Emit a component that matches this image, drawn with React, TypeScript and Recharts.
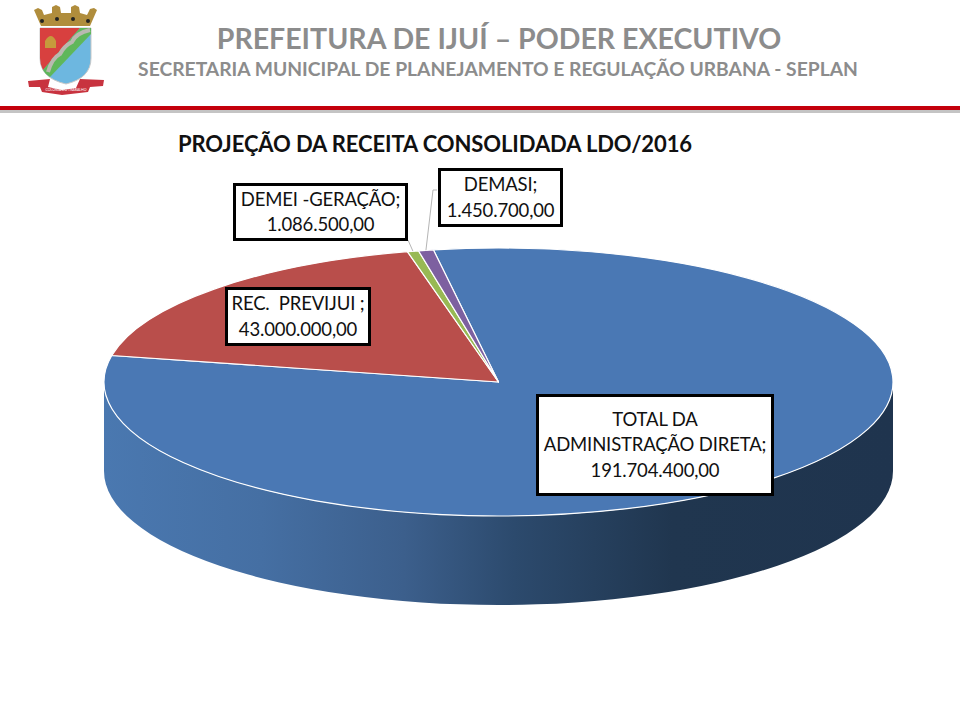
import React from 'react';
import { PieChart, Pie, Cell } from 'recharts';

const categories = ['TOTAL DA\nADMINISTRAÇÃO DIRETA', 'REC.  PREVIJUI ', 'DEMEI -GERAÇÃO', 'DEMASI'];
const values = [191704400, 43000000, 1086500, 1450700];
const colors = ['#4a78b4', '#b94e4b', '#98b954', '#7d60a0'];

const rows = categories.map((name, i) => ({ name, value: values[i] }));

const FONT = 'Lato, "Open Sans", sans-serif';
const CX = 498.5;
const CY = 382;
const RX = 394.5;
const RY = 134;
const DEPTH = 89;

const labelBoxes = [
  { left: 536, top: 394, width: 238, height: 102 },
  { left: 225, top: 287, width: 146, height: 59 },
  { left: 233, top: 183, width: 175, height: 58 },
  { left: 438, top: 168, width: 125, height: 59 },
];

const leaderStarts = [null, null, [[408, 240]], [[437, 190], [433, 190]]];

const pt = (deg: number, dy = 0): [number, number] => {
  const a = (deg * Math.PI) / 180;
  return [CX + RX * Math.cos(a), CY - RY * Math.sin(a) + dy];
};

const money = (v: number) =>
  v.toLocaleString('pt-BR', { minimumFractionDigits: 2, maximumFractionDigits: 2 });

// squashes the sector the Pie computed into an ellipse and adds the front wall
const Slice3D = (props: any) => {
  const { startAngle, endAngle, fill, index } = props;
  const [sx, sy] = pt(startAngle);
  const [ex, ey] = pt(endAngle);
  const large = Math.abs(startAngle - endAngle) > 180 ? 1 : 0;
  const top = `M${CX} ${CY}L${sx} ${sy}A${RX} ${RY} 0 ${large} 1 ${ex} ${ey}Z`;

  const hi = Math.min(startAngle, 0);
  const lo = Math.max(endAngle, -180);
  let wall = null;
  if (hi > lo) {
    const [ax, ay] = pt(hi);
    const [bx, by] = pt(lo);
    const [cx, cy] = pt(lo, DEPTH);
    const [dx, dy] = pt(hi, DEPTH);
    wall = `M${ax} ${ay}A${RX} ${RY} 0 0 1 ${bx} ${by}L${cx} ${cy}A${RX} ${RY} 0 0 0 ${dx} ${dy}Z`;
  }

  const mid = (startAngle + endAngle) / 2;
  const leader = leaderStarts[index];
  return (
    <g>
      {wall && (
        <>
          <defs>
            <linearGradient id="wallShade" gradientUnits="userSpaceOnUse" x1={CX - RX} x2={CX + RX} y1="0" y2="0">
              <stop offset="0" stopColor="#4a78b0" />
              <stop offset="0.2" stopColor="#456fa3" />
              <stop offset="0.38" stopColor="#3c5f8c" />
              <stop offset="0.52" stopColor="#2c4a6d" />
              <stop offset="0.72" stopColor="#20364f" />
              <stop offset="1" stopColor="#1f344e" />
            </linearGradient>
          </defs>
          <path d={wall} fill="url(#wallShade)" />
        </>
      )}
      <path d={top} fill={fill} stroke="#fff" strokeWidth={1.2} strokeLinejoin="round" />
      {leader && (
        <polyline
          points={[...leader, pt(mid)].map((p) => p.join(',')).join(' ')}
          fill="none"
          stroke="#b5b5b5"
          strokeWidth={1}
        />
      )}
    </g>
  );
};

const Logo = () => (
  <svg width={110} height={100} viewBox="0 0 110 100" style={{ position: 'absolute', left: 0, top: 0 }}>
    <path
      d="M34 10 L38 8 L42 10 L44 15 L52 13 L52 7 L56 5 L60 7 L61 13 L71 13 L71 7 L75 5 L79 7 L80 13 L87 15 L90 9 L94 8 L97 10 L90 26 L41 26 Z"
      fill="#b08d3c"
    />
    <circle cx={42} cy={21} r={2} fill="#222" />
    <circle cx={57} cy={19} r={2} fill="#222" />
    <circle cx={73} cy={19} r={2} fill="#222" />
    <circle cx={88} cy={21} r={2} fill="#222" />
    <path d="M40 28 H91 V58 Q91 78 66 84 Q40 78 40 58 Z" fill="#6db7e0" stroke="#c8c8c8" />
    <path d="M40 28 H80 L43 70 Q40 64 40 58 Z" fill="#d8403f" />
    <path d="M80 28 H91 V34 L50 77 Q45 74 43 70 Z" fill="#5fb75a" />
    <path d="M90 30 Q76 33 72 42 Q64 46 60 54 Q52 58 48 72" fill="none" stroke="#b9b9b0" strokeWidth={4} />
    <path d="M45 48 V41 Q51 31 56 41 V48 Z" fill="#c69a3c" />
    <path d="M28 81 L50 79 L48 87 L62 90 L76 88 L80 79 L104 80 L103 86 L90 87 L88 92 L62 95 L42 92 L40 87 L29 87 Z" fill="#c8333f" />
    <text x={66} y={91} textAnchor="middle" fontSize={3.5} fill="#fff" fontFamily={FONT}>COLÔNIA DO TRABALHO</text>
  </svg>
);

const App = () => (
  <div style={{ position: 'absolute', left: 0, top: 0, width: 960, height: 710, overflow: 'hidden', background: '#fff', fontFamily: FONT }}>
    <Logo />
    <div style={{ position: 'absolute', left: 0, width: 998, top: 20, textAlign: 'center', fontSize: 28.5, fontWeight: 700, color: '#8c8c8c', lineHeight: '36px', whiteSpace: 'pre' }}>
      PREFEITURA DE IJUÍ – PODER EXECUTIVO
    </div>
    <div style={{ position: 'absolute', left: 0, width: 996, top: 57, textAlign: 'center', fontSize: 19.27, fontWeight: 700, color: '#8c8c8c', lineHeight: '24px', whiteSpace: 'pre' }}>
      SECRETARIA MUNICIPAL DE PLANEJAMENTO E REGULAÇÃO URBANA - SEPLAN
    </div>
    <div style={{ position: 'absolute', left: 0, top: 106, width: 960, height: 4, background: '#c4000c' }} />
    <div style={{ position: 'absolute', left: 0, top: 110, width: 960, height: 3, background: '#c4c4c4' }} />
    <div style={{ position: 'absolute', left: 178, top: 129, fontSize: 22, letterSpacing: -0.1, fontWeight: 700, color: '#111', lineHeight: '30px', whiteSpace: 'pre' }}>
      PROJEÇÃO DA RECEITA CONSOLIDADA LDO/2016
    </div>

    <div style={{ position: 'absolute', left: 0, top: 0 }}>
      <PieChart width={960} height={710} margin={{ top: 0, right: 0, bottom: 0, left: 0 }}>
        <Pie
          data={rows}
          dataKey="value"
          nameKey="name"
          cx={CX}
          cy={CY}
          innerRadius={0}
          outerRadius={RX}
          startAngle={99.5}
          endAngle={-260.5}
          stroke="none"
          isAnimationActive={false}
          shape={Slice3D}
        >
          {rows.map((r, i) => (
            <Cell key={r.name} fill={colors[i]} />
          ))}
        </Pie>
      </PieChart>
    </div>

    {rows.map((r, i) => (
      <div
        key={r.name}
        style={{
          position: 'absolute',
          ...labelBoxes[i],
          boxSizing: 'border-box',
          background: '#fff',
          border: '3px solid #000',
          display: 'flex',
          alignItems: 'center',
          justifyContent: 'center',
          textAlign: 'center',
          fontSize: 18.5,
          letterSpacing: -0.15,
          lineHeight: '25.5px',
          color: '#111',
          whiteSpace: 'pre',
        }}
      >
        {`${r.name};\n${money(r.value)}`}
      </div>
    ))}
  </div>
);

export default App;
